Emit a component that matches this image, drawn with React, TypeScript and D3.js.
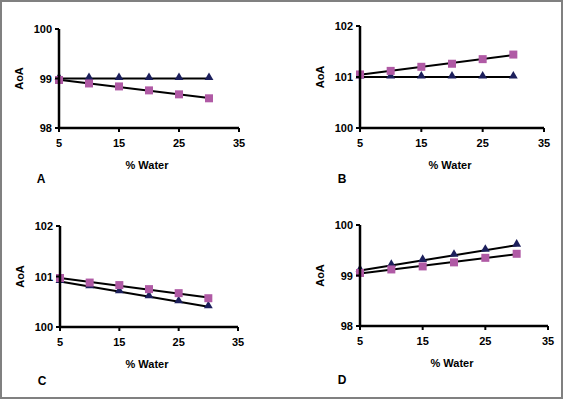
import React from "react";
import * as d3 from "d3";

const water = [5, 10, 15, 20, 25, 30];
const xTicks = [5, 15, 25, 35];

const aSquares = [98.97, 98.9, 98.84, 98.76, 98.68, 98.6];
const aTriangles = [99, 99, 99, 99, 99, 99];
const bSquares = [101.05, 101.12, 101.2, 101.26, 101.35, 101.44];
const bTriangles = [101, 101, 101, 101, 101, 101];
const cSquares = [100.97, 100.88, 100.83, 100.75, 100.67, 100.57];
const cTriangles = [100.9, 100.8, 100.7, 100.6, 100.5, 100.4];
const dSquares = [99.05, 99.12, 99.18, 99.26, 99.35, 99.43];
const dTriangles = [99.1, 99.2, 99.3, 99.4, 99.5, 99.6];

const panelLetters = ["A", "B", "C", "D"];
const yDomains: [number, number][] = [[98, 100], [100, 102], [100, 102], [98, 100]];
const yTicksList = [[98, 99, 100], [100, 101, 102], [100, 101, 102], [98, 99, 100]];
const squaresList = [aSquares, bSquares, cSquares, dSquares];
const trianglesList = [aTriangles, bTriangles, cTriangles, dTriangles];

const boxes = [
  { l: 59, r: 239, t: 29, b: 128 },
  { l: 360, r: 544, t: 26, b: 128 },
  { l: 60, r: 238, t: 226, b: 327 },
  { l: 360, r: 548, t: 225, b: 326 },
];

const SQ = "#b05aa5";
const TRI = "#1c1f5c";
const FONT = "'Liberation Sans', Arial, sans-serif";

function fit(xs: number[], ys: number[]) {
  const mx = d3.mean(xs)!;
  const my = d3.mean(ys)!;
  let num = 0, den = 0;
  xs.forEach((x, i) => { num += (x - mx) * (ys[i] - my); den += (x - mx) ** 2; });
  const slope = num / den;
  return (x: number) => my + slope * (x - mx);
}

function Panel({ idx }: { idx: number }) {
  const box = boxes[idx];
  const x = d3.scaleLinear().domain([5, 35]).range([box.l, box.r]);
  const y = d3.scaleLinear().domain(yDomains[idx]).range([box.b, box.t]);
  const sq = squaresList[idx];
  const tr = trianglesList[idx];
  const fs = fit(water, sq);
  const ft = fit(water, tr);
  const line = d3.line<[number, number]>().x((d) => x(d[0])).y((d) => y(d[1]));
  const triPath = d3.symbol().type(d3.symbolTriangle).size(34)();
  const midX = (box.l + box.r) / 2 - 2;
  const midY = (box.t + box.b) / 2;
  return (
    <g>
      {/* regression lines */}
      <path d={line([[5, ft(5)], [30, ft(30)]])!} stroke="#000" strokeWidth={2} fill="none" />
      <path d={line([[5, fs(5)], [30, fs(30)]])!} stroke="#000" strokeWidth={2} fill="none" />
      {tr.map((v, i) => (
        <path key={"t" + i} d={triPath!} transform={`translate(${x(water[i])},${y(v) - 1})`} fill={TRI} />
      ))}
      {sq.map((v, i) => (
        <rect key={"s" + i} x={x(water[i]) - 4} y={y(v) - 4} width={8} height={8} fill={SQ} />
      ))}
      {/* axes */}
      <line x1={box.l} x2={box.l} y1={box.t} y2={box.b + 1} stroke="#000" strokeWidth={2.5} />
      <line x1={box.l - 1} x2={box.r} y1={box.b} y2={box.b} stroke="#000" strokeWidth={2.5} />
      {yTicksList[idx].map((t) => (
        <g key={"yt" + t}>
          <line x1={box.l - 4} x2={box.l} y1={y(t)} y2={y(t)} stroke="#000" strokeWidth={2} />
          <text x={box.l - 7} y={y(t) + 4} textAnchor="end" fontSize={11} fontWeight="bold" fontFamily={FONT}>{t}</text>
        </g>
      ))}
      {xTicks.map((t) => (
        <g key={"xt" + t}>
          <line x1={x(t)} x2={x(t)} y1={box.b} y2={box.b + 4} stroke="#000" strokeWidth={2} />
          <text x={x(t)} y={box.b + 19} textAnchor="middle" fontSize={11} fontWeight="bold" fontFamily={FONT}>{t}</text>
        </g>
      ))}
      <text x={midX} y={box.b + 41} textAnchor="middle" fontSize={11} fontWeight="bold" fontFamily={FONT}>% Water</text>
      <text transform={`translate(${box.l - 36},${midY}) rotate(-90)`} textAnchor="middle" fontSize={11} fontWeight="bold" fontFamily={FONT}>AoA</text>
      <text x={box.l - 18} y={box.b + (idx < 2 ? 55 : 58)} textAnchor="middle" fontSize={12} fontWeight="bold" fontFamily={FONT}>{panelLetters[idx]}</text>
    </g>
  );
}

export default function App() {
  return (
    <svg width={563} height={400} style={{ position: "absolute", left: 0, top: 0, background: "#fff" }}>
      <rect x={0} y={0} width={563} height={400} fill="#fff" />
      <rect x={1} y={1} width={561} height={397} fill="none" stroke="#808080" strokeWidth={2} />
      {[0, 1, 2, 3].map((i) => <Panel key={i} idx={i} />)}
    </svg>
  );
}
